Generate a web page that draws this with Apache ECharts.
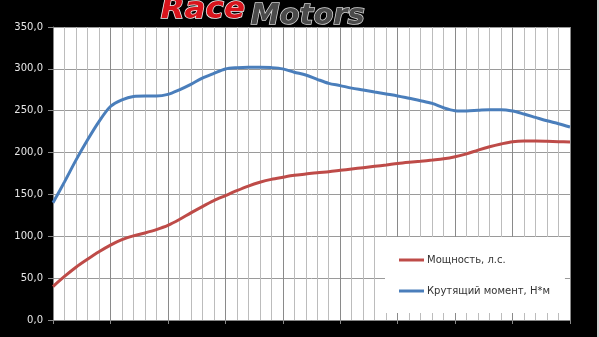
<!DOCTYPE html>
<html>
<head>
<meta charset="utf-8">
<script src="https://cdn.jsdelivr.net/npm/echarts@6/dist/echarts.min.js"></script>
<style>
html,body{margin:0;padding:0;background:#000;}
#c{width:599px;height:337px;}
</style>
</head>
<body>
<div id="c"></div>
<script>
// x positions: test points (46 steps)
const steps = [0,1,2,3,4,5,6,7,8,9,10,11,12,13,14,15,16,17,18,19,20,21,22,23,24,25,26,27,28,29,30,31,32,33,34,35,36,37,38,39,40,41,42,43,44,45];
// Мощность, л.с.
const power = [40,52,63,72.5,81.5,89.5,96,100.5,104,108,113,120,128,135.5,142.5,148.5,154.5,160,164.5,168,170.5,172.8,174.4,176,177.2,178.8,180.4,182,183.6,185.2,187,188.4,189.6,191,192.5,195,198.5,203,207,210.3,213,213.8,213.8,213.5,213,212.6];
// Крутящий момент, Н*м
const torque = [140,165,191,215,237,255,263,267,267.5,267.5,269.5,275,281.5,289,294.6,299.8,301.4,302,302,301.5,300,296,292.7,287.5,282.7,280,277,274.8,272.4,270,267.6,264.8,262,258.8,253.5,250,249.6,250.5,251.3,251.3,249.6,246,242,238,234.5,230.5];
const yTicks = [0,50,100,150,200,250,300,350];
const seriesNames = ['Мощность, л.с.', 'Крутящий момент, Н*м'];

const chart = echarts.init(document.getElementById('c'), null, {renderer:'canvas'});
const pair = arr => arr.map((v,i)=>[steps[i], v]);
chart.setOption({
  backgroundColor:'#000',
  animation:false,
  grid:{left:53, top:27, right:29, bottom:17, show:true, backgroundColor:'#fff', borderWidth:0},
  xAxis:{
    type:'value', min:0, max:45, interval:5,
    axisLine:{show:true, lineStyle:{color:'#888', width:1}},
    axisTick:{show:true, length:4, lineStyle:{color:'#888'}},
    axisLabel:{show:false},
    splitLine:{show:true, lineStyle:{color:'#8a8a8a', width:1}},
    minorTick:{show:false, splitNumber:5},
    minorSplitLine:{show:true, lineStyle:{color:'#bcbcbc', width:1}}
  },
  yAxis:{
    type:'value', min:yTicks[0], max:yTicks[yTicks.length-1], interval:50,
    axisLine:{show:true, lineStyle:{color:'#888'}},
    axisTick:{show:true, length:5, lineStyle:{color:'#888'}},
    axisLabel:{color:'#e6e6e6', fontFamily:'DejaVu Sans', fontSize:10, margin:10,
      formatter:v=>v.toFixed(1).replace('.',',')},
    splitLine:{show:true, lineStyle:{color:'#9a9a9a', width:1}}
  },
  legend:{
    orient:'vertical', left:385, top:237,
    backgroundColor:'#fff',
    padding:[18,15,17,14],
    itemGap:21, itemWidth:25, itemHeight:3,
    icon:'rect',
    textStyle:{color:'#333', fontFamily:'DejaVu Sans', fontSize:10, padding:[0,0,0,-2]},
    data:seriesNames
  },
  graphic:[
    {type:'text', left:160, top:-6, z:10, style:{text:'Race', font:'italic bold 31px "DejaVu Sans"', fill:'#d8141c', stroke:'#f4f4f4', lineWidth:1.5}},
    {type:'text', left:250, top:1, z:10, style:{text:'Motors', font:'italic bold 29px "DejaVu Sans"', fill:'#4a4a4a', stroke:'#d8d8d8', lineWidth:1.5}},
    {type:'rect', right:0, top:0, z:10, shape:{width:2, height:337}, style:{fill:'#d0d0d0'}}
  ],
  series:[
    {name:seriesNames[0], type:'line', data:pair(power), smooth:0.3, showSymbol:false,
      lineStyle:{color:'#be4b48', width:3}, itemStyle:{color:'#be4b48'}},
    {name:seriesNames[1], type:'line', data:pair(torque), smooth:0.3, showSymbol:false,
      lineStyle:{color:'#4a7ebb', width:3}, itemStyle:{color:'#4a7ebb'}}
  ]
});
</script>
</body>
</html>
